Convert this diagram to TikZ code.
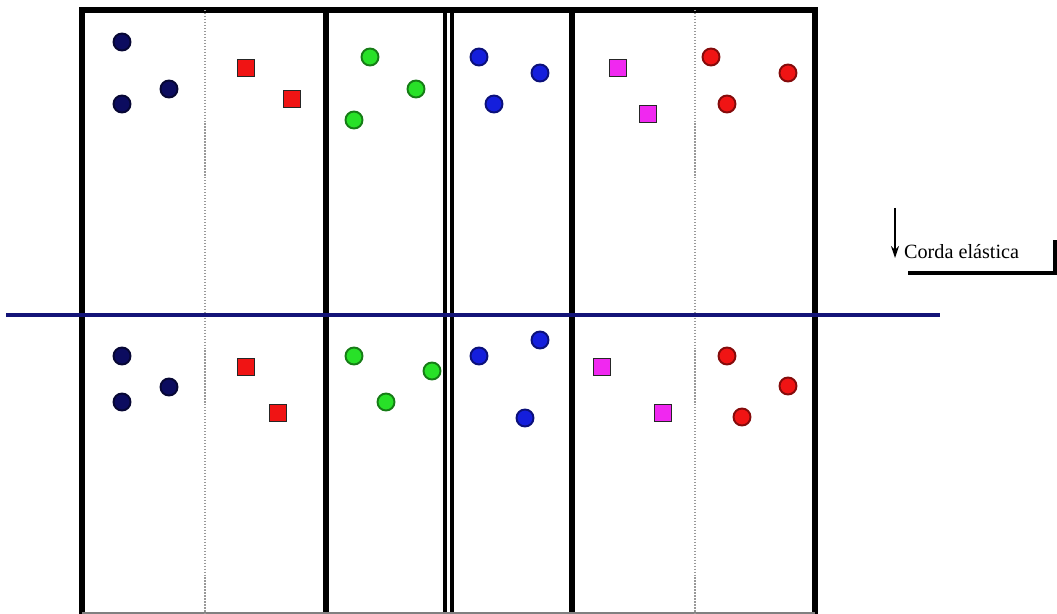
\documentclass[tikz,border=0pt]{standalone}
\usepackage{fontspec}
\setmainfont{Liberation Serif}
\usepackage{tikz}
\usetikzlibrary{positioning,arrows.meta}

\definecolor{navydot}{RGB}{12,12,95}
\definecolor{bluedot}{RGB}{20,30,220}
\definecolor{greendot}{RGB}{40,225,40}
\definecolor{reddot}{RGB}{240,20,20}
\definecolor{magentadot}{RGB}{240,40,240}
\definecolor{ropeblue}{RGB}{20,20,120}

\begin{document}
\begin{tikzpicture}[
    x=0.02cm, y=-0.02cm,
    wall/.style={line width=3.8pt, black},
    thinwall/.style={line width=2.6pt, black},
    divider/.style={line width=0.7pt, gray!80, densely dotted},
    rope/.style={line width=2.8pt, draw=ropeblue},
    ball/.style={circle, draw=#1!55!black, fill=#1, line width=1.1pt, minimum size=0.34cm, inner sep=0pt},
    block/.style={rectangle, draw=black!85, fill=#1, line width=1.1pt, minimum size=0.34cm, inner sep=0pt},
    arrow/.style={-{Stealth[length=2.4mm, width=1.6mm]}, line width=0.8pt},
    bracket/.style={line width=2pt, black},
    lbl/.style={font=\fontsize{11.5}{13}\selectfont, inner sep=1pt}
]
    \useasboundingbox (0,0) rectangle (1057,614);

    % Frame and walls
    \draw[wall] (82,614) -- (82,10) -- (815,10) -- (815,614);
    \draw[wall] (326,10) -- (326,614);
    \draw[thinwall] (445,10) -- (445,614);
    \draw[thinwall] (452,10) -- (452,614);
    \draw[wall] (572,10) -- (572,614);
    \draw[line width=0.8pt, gray] (82,613) -- (815,613);

    % Dividers
    \draw[divider] (205,10) -- (205,614);
    \draw[divider] (695,10) -- (695,614);

    % Rope
    \draw[rope] (6,315) -- (940,315);

    % Top half
    \node[ball=navydot] (tn1) at (122,42) {};
    \node[ball=navydot] (tn2) at (122,104) {};
    \node[ball=navydot] (tn3) at (169,89) {};
    \node[block=reddot] (tr1) at (246,68) {};
    \node[block=reddot] (tr2) at (292,99) {};
    \node[ball=greendot] (tg1) at (370,57) {};
    \node[ball=greendot] (tg2) at (416,89) {};
    \node[ball=greendot] (tg3) at (354,120) {};
    \node[ball=bluedot] (tb1) at (479,57) {};
    \node[ball=bluedot] (tb2) at (540,73) {};
    \node[ball=bluedot] (tb3) at (494,104) {};
    \node[block=magentadot] (tm1) at (618,68) {};
    \node[block=magentadot] (tm2) at (648,114) {};
    \node[ball=reddot] (tc1) at (711,57) {};
    \node[ball=reddot] (tc2) at (788,73) {};
    \node[ball=reddot] (tc3) at (727,104) {};

    % Bottom half
    \node[ball=navydot] (bn1) at (122,356) {};
    \node[ball=navydot] (bn2) at (122,402) {};
    \node[ball=navydot] (bn3) at (169,387) {};
    \node[block=reddot] (br1) at (246,367) {};
    \node[block=reddot] (br2) at (278,413) {};
    \node[ball=greendot] (bg1) at (354,356) {};
    \node[ball=greendot] (bg2) at (432,371) {};
    \node[ball=greendot] (bg3) at (386,402) {};
    \node[ball=bluedot] (bb1) at (479,356) {};
    \node[ball=bluedot] (bb2) at (540,340) {};
    \node[ball=bluedot] (bb3) at (525,418) {};
    \node[block=magentadot] (bm1) at (602,367) {};
    \node[block=magentadot] (bm2) at (663,413) {};
    \node[ball=reddot] (bc1) at (727,356) {};
    \node[ball=reddot] (bc2) at (788,386) {};
    \node[ball=reddot] (bc3) at (742,417) {};

    % Label
    \node[lbl, anchor=west] (corda) at (902,252) {Corda elástica};
    \coordinate (arrowtop) at (895,208);
    \coordinate (arrowend) at (895,258);
    \draw[arrow] (arrowtop) -- (arrowend);
    \draw[bracket] (908,273) -- (1055,273) -- (1055,240);
\end{tikzpicture}
\end{document}
